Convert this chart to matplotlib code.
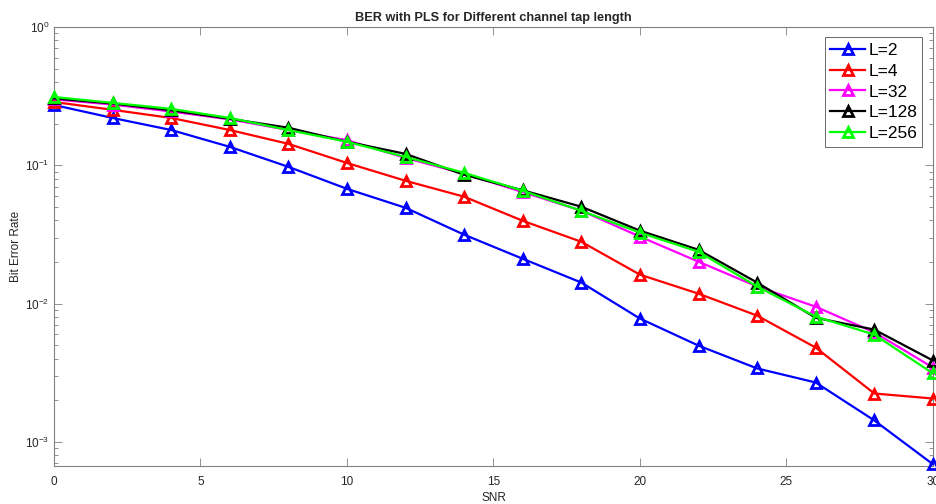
import matplotlib
matplotlib.use("Agg")
import matplotlib.pyplot as plt
import numpy as np

# data
snr = [0, 2, 4, 6, 8, 10, 12, 14, 16, 18, 20, 22, 24, 26, 28, 30]
labels = ['L=2', 'L=4', 'L=32', 'L=128', 'L=256']
colors = ['#0000ff', '#ff0000', '#ff00ff', '#000000', '#00ff00']

ber_l2 = [0.273, 0.220, 0.180, 0.136, 0.0975, 0.0676, 0.0493, 0.0315,
          0.0211, 0.0142, 0.0078, 0.00497, 0.0034, 0.00269, 0.00143, 0.00069]
ber_l4 = [0.287, 0.252, 0.220, 0.180, 0.143, 0.104, 0.0773, 0.0593,
          0.0397, 0.0280, 0.0162, 0.0118, 0.00819, 0.00481, 0.00224, 0.00206]
ber_l32 = [0.300, 0.275, 0.245, 0.215, 0.180, 0.152, 0.113, 0.087,
           0.064, 0.047, 0.0305, 0.0201, 0.0133, 0.0095, 0.0062, 0.00345]
ber_l128 = [0.305, 0.280, 0.250, 0.217, 0.187, 0.148, 0.121, 0.0854,
            0.066, 0.0502, 0.0337, 0.0245, 0.0142, 0.0079, 0.00649, 0.00388]
ber_l256 = [0.312, 0.283, 0.256, 0.220, 0.180, 0.148, 0.115, 0.0883,
            0.0655, 0.0469, 0.0326, 0.0237, 0.0133, 0.00806, 0.00597, 0.00313]
series = [ber_l2, ber_l4, ber_l32, ber_l128, ber_l256]

plt.rcParams['font.family'] = ['Liberation Sans', 'DejaVu Sans']
plt.rcParams['mathtext.default'] = 'regular'
plt.rcParams['axes.unicode_minus'] = False

fig = plt.figure(figsize=(9.36, 5.04), dpi=100)
ax = fig.add_axes([0.0577, 0.0754, 0.939, 0.871])

for y, c, lab in zip(series, colors, labels):
    ax.plot(snr, y, '-^', color=c, lw=1.6, ms=6.5, mfc='none', mew=2.0,
            label=lab, clip_on=False, zorder=3)

ax.set_yscale('log')
ax.set_xlim(0, 30)
ax.set_ylim(6.7e-4, 1)
ax.set_xticks([0, 5, 10, 15, 20, 25, 30])

grey = '#262626'
for s in ax.spines.values():
    s.set_color('#808080')
    s.set_linewidth(0.8)
ax.tick_params(which='both', direction='in', top=True, right=True,
               colors='#808080', labelcolor=grey, labelsize=8.5)
ax.tick_params(which='major', length=6, width=0.6)
ax.tick_params(which='minor', length=3, width=0.6)
ax.tick_params(axis='x', which='minor', bottom=False, top=False)
ax.tick_params(axis='x', pad=7)

ax.set_xlabel('SNR', fontsize=8.5, color=grey, labelpad=3)
ax.set_ylabel('Bit Error Rate', fontsize=8.5, color=grey, labelpad=2)
ax.set_title('BER with PLS for Different channel tap length', fontsize=9.2,
             fontweight='bold', color=grey, pad=4)

leg = ax.legend(loc='upper right', fontsize=12.5, frameon=True, fancybox=False,
                borderaxespad=0.6, handlelength=2.0, handletextpad=0.2,
                labelspacing=0.33, borderpad=0.3)
leg.get_frame().set_edgecolor('#262626')
leg.get_frame().set_linewidth(0.6)

fig.savefig('out.png', dpi=100)
